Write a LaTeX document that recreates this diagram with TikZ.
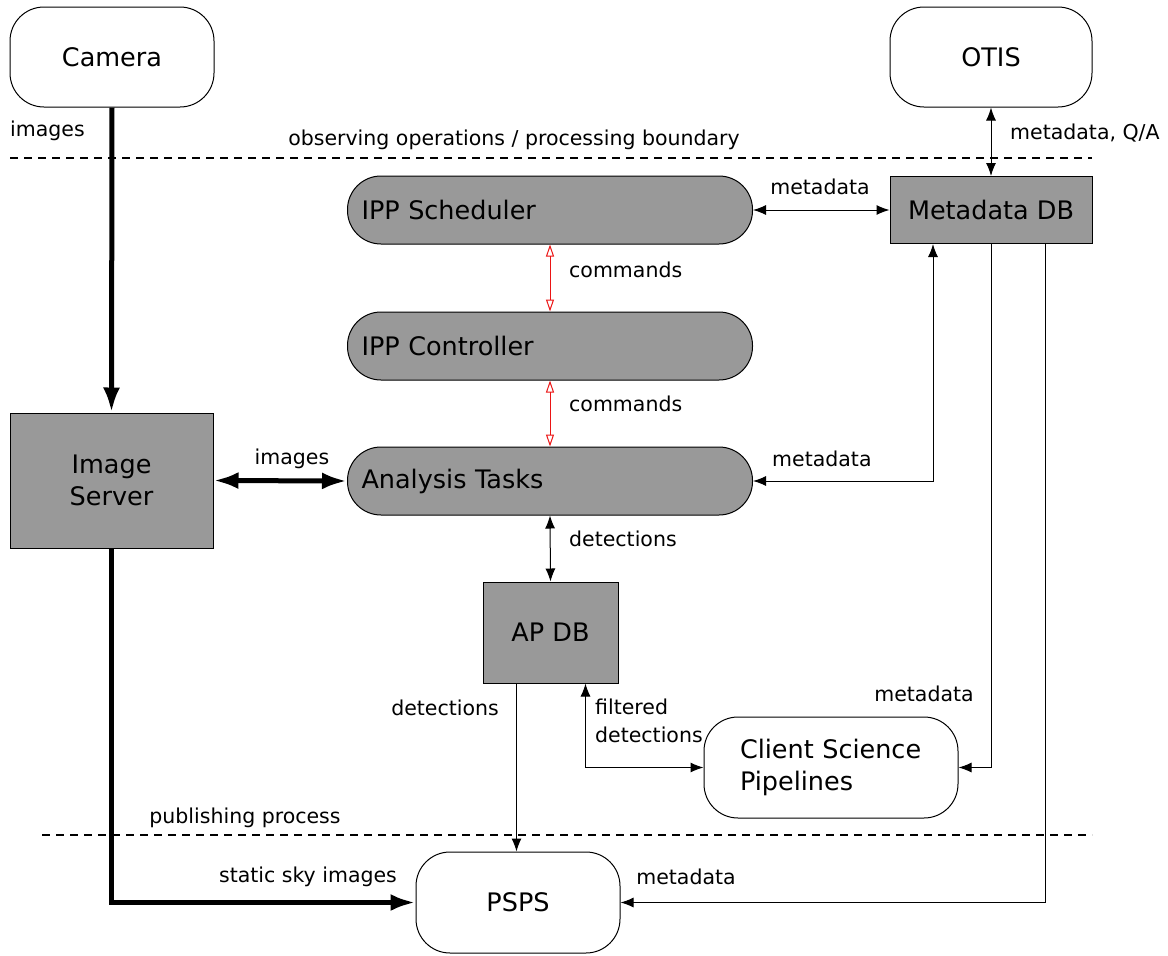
\documentclass[tikz,border=0pt]{standalone}
\usepackage{fontspec}
\setmainfont{DejaVu Sans}
\usetikzlibrary{arrows.meta}
\definecolor{boxgray}{RGB}{153,153,153}
\definecolor{cmdred}{RGB}{235,20,20}

\begin{document}
\begin{tikzpicture}[x=1pt,y=-1pt,
    every node/.style={font=\fontsize{25.5}{32}\selectfont},
    softbox/.style={draw,line width=1pt,rounded corners=34pt,fill=white,minimum width=204pt,minimum height=100pt},
    pillbox/.style={draw,line width=1pt,rounded corners=33.5pt,fill=boxgray,minimum width=405pt,minimum height=68pt,text width=377pt,align=left,inner sep=0pt},
    dbbox/.style={draw,line width=1pt,fill=boxgray,inner sep=0pt},
    lbl/.style={font=\fontsize{20.5}{28}\selectfont,inner sep=0pt},
    dataline/.style={line width=1pt,>={Latex[length=13pt,width=10pt]}},
    bulkline/.style={line width=5pt,>={Latex[length=25pt,width=17pt]}},
    cmdline/.style={line width=1pt,draw=cmdred,>={Triangle[open,length=12pt,width=8pt]}},
    boundary/.style={line width=1.6pt,dash pattern=on 8pt off 6pt}]
                \useasboundingbox (0,0) rectangle (1168,956);
                % outside world
                \node[softbox] (camera) at (112,57) {Camera};
                \node[softbox,minimum width=202pt] (otis) at (991,57) {OTIS};
                % processing
                \node[dbbox,minimum width=202pt,minimum height=67pt] (mdb) at (991,210) {Metadata DB};
                \node[pillbox] (sched) at (550,210) {IPP Scheduler};
                \node[pillbox] (ctrl) at (550,346) {IPP Controller};
                \node[pillbox] (at) at (550,481) {Analysis Tasks};
                \node[dbbox,minimum width=203pt,minimum height=135pt,align=center] (imgsrv) at (111.5,480.5) {Image\\Server};
                \node[dbbox,minimum width=135pt,minimum height=101pt] (apdb) at (550.5,632.5) {AP DB};
                \node[softbox,minimum width=254pt,minimum height=101pt,text width=182pt,align=left] (csp) at (831,767.5) {Client Science\\Pipelines};
                % publishing
                \node[softbox,minimum height=101pt] (psps) at (518,902.5) {PSPS};
                % boundaries
                \coordinate (obs west) at (10,158);
                \coordinate (obs east) at (1092,158);
                \coordinate (pub west) at (42,835);
                \coordinate (pub east) at (1092,835);
                \draw[boundary] (obs west) -- (obs east);
                \draw[boundary] (pub west) -- (pub east);
                % connectors
                \draw[bulkline,->] (camera.south) -- (imgsrv.north);
                \draw[bulkline,<->] (imgsrv.east) -- (at.west);
                \draw[bulkline,->] (imgsrv.south) |- (psps.west);
                \draw[dataline,<->] (otis.south) -- (mdb.north);
                \draw[dataline,<->] (sched.east) -- (mdb.west);
                \draw[cmdline,<->] (sched.south) -- (ctrl.north);
                \draw[cmdline,<->] (ctrl.south) -- (at.north);
                \draw[dataline,<->] (at.east) -| ([xshift=-58pt]mdb.south);
                \draw[dataline,<->] (at.south) -- (apdb.north);
                \draw[dataline,->] ([xshift=-34pt]apdb.south) -- ([xshift=-34pt]apdb.south |- psps.north);
                \draw[dataline,<->] ([xshift=35pt]apdb.south) |- (csp.west);
                \draw[dataline,->] (mdb.south) |- (csp.east);
                \draw[dataline,->] ([xshift=54pt]mdb.south) |- (psps.east);
                % labels
                \node[lbl,anchor=west] (l images top) at (10,131) {images};
                \node[lbl] (l boundary) at (514,140) {observing operations / processing boundary};
                \node[lbl,anchor=west] (l qa) at (1010,133) {metadata, Q/A};
                \node[lbl] (l meta sched) at (820,187) {metadata};
                \node[lbl,anchor=west] (l cmd a) at (569,270) {commands};
                \node[lbl,anchor=west] (l cmd b) at (569,404) {commands};
                \node[lbl] (l images) at (292,459) {images};
                \node[lbl,anchor=west] (l meta at) at (772,459) {metadata};
                \node[lbl,anchor=west] (l det a) at (569,539) {detections};
                \node[lbl] (l det b) at (445,708) {detections};
                \node[lbl,anchor=west,align=left] (l filtered) at (595,721) {filtered\\detections};
                \node[lbl] (l meta csp) at (924,694) {metadata};
                \node[lbl] (l publishing) at (245,818) {publishing process};
                \node[lbl] (l static) at (308,877) {static sky images};
                \node[lbl] (l meta psps) at (686,877) {metadata};
            \end{tikzpicture}
\end{document}
